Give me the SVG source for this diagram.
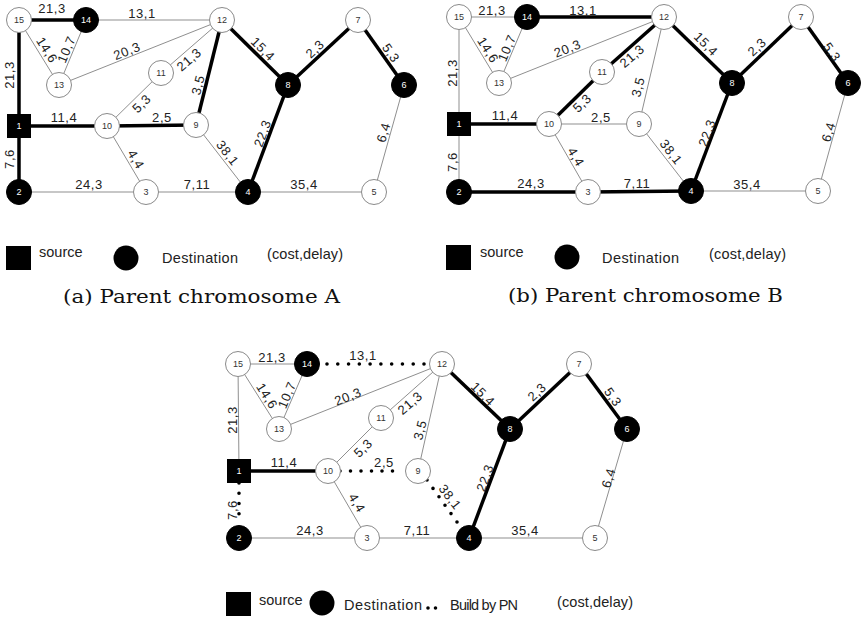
<svg xmlns="http://www.w3.org/2000/svg" width="863" height="619" viewBox="0 0 863 619">
<style>
.t{stroke:#8f8f8f;stroke-width:1;fill:none}
.b{stroke:#000;stroke-width:3.5;fill:none}
.d{stroke:#000;stroke-width:3.6;stroke-linecap:round;stroke-dasharray:0 1;fill:none}
.nw circle{fill:#fff;stroke:#8a8a8a;stroke-width:1}
.nb circle{fill:#000;stroke:#000;stroke-width:1}
.ns rect{fill:#000}
.nw text{fill:#333}
.nb text,.ns text{fill:#fff}
.nw text,.nb text,.ns text{font-family:"Liberation Sans",Arial,sans-serif;font-size:9px;text-anchor:middle;dominant-baseline:central}
.l{font-family:"Liberation Sans",Arial,sans-serif;font-size:13px;letter-spacing:0.6px;fill:#222;text-anchor:middle;dominant-baseline:central}
.lg{font-family:"Liberation Sans",Arial,sans-serif;font-size:14.5px;fill:#222}
.cap{font-family:"DejaVu Serif","Liberation Serif",serif;font-size:19px;fill:#111}
</style>

<!-- ================= Graph A ================= -->
<g id="A-edges">
<line class="b" x1="19" y1="20" x2="86" y2="20"/>
<line class="t" x1="86" y1="20" x2="222" y2="20"/>
<line class="b" x1="19" y1="20" x2="19" y2="126"/>
<line class="t" x1="19" y1="20" x2="59" y2="85"/>
<line class="t" x1="86" y1="20" x2="59" y2="85"/>
<line class="t" x1="59" y1="85" x2="222" y2="20"/>
<line class="t" x1="161" y1="73" x2="222" y2="20"/>
<line class="b" x1="196" y1="125" x2="222" y2="20"/>
<line class="b" x1="222" y1="20" x2="288" y2="85"/>
<line class="b" x1="288" y1="85" x2="358" y2="20"/>
<line class="b" x1="358" y1="20" x2="404" y2="85"/>
<line class="t" x1="404" y1="85" x2="374" y2="192"/>
<line class="b" x1="19" y1="126" x2="107" y2="126"/>
<line class="t" x1="107" y1="126" x2="161" y2="73"/>
<line class="b" x1="107" y1="126" x2="196" y2="125"/>
<line class="t" x1="107" y1="126" x2="146" y2="192"/>
<line class="b" x1="19" y1="126" x2="19" y2="192"/>
<line class="t" x1="19" y1="192" x2="146" y2="192"/>
<line class="t" x1="146" y1="192" x2="248" y2="192"/>
<line class="t" x1="196" y1="125" x2="248" y2="192"/>
<line class="b" x1="288" y1="85" x2="248" y2="192"/>
<line class="t" x1="248" y1="192" x2="374" y2="192"/>
</g>
<g id="A-labels">
<text class="l" x="52" y="8">21,3</text>
<text class="l" x="142" y="13">13,1</text>
<text class="l" transform="translate(9,75) rotate(-90)">21,3</text>
<text class="l" transform="translate(47,50) rotate(58)">14,6</text>
<text class="l" transform="translate(66.5,49.5) rotate(-67)">10,7</text>
<text class="l" transform="translate(127,51) rotate(-22)">20,3</text>
<text class="l" transform="translate(189,59.5) rotate(-41)">21,3</text>
<text class="l" transform="translate(198,85) rotate(-76)">3,5</text>
<text class="l" transform="translate(263,49) rotate(45)">15,4</text>
<text class="l" transform="translate(315,49) rotate(-43)">2,3</text>
<text class="l" transform="translate(391,53) rotate(55)">5,3</text>
<text class="l" transform="translate(383.5,132.5) rotate(-74)">6,4</text>
<text class="l" transform="translate(262.5,133.5) rotate(-70)">22,3</text>
<text class="l" transform="translate(227.5,153) rotate(52)">38,1</text>
<text class="l" x="304" y="184">35,4</text>
<text class="l" x="197" y="184">7,11</text>
<text class="l" x="89" y="184">24,3</text>
<text class="l" transform="translate(136,159.5) rotate(59)">4,4</text>
<text class="l" x="162" y="117">2,5</text>
<text class="l" transform="translate(141.5,103.5) rotate(-44)">5,3</text>
<text class="l" x="64" y="117">11,4</text>
<text class="l" transform="translate(9,159) rotate(-90)">7,6</text>
</g>
<g id="A-n15" class="nw"><circle cx="19" cy="20" r="12.5"/><text x="19" y="20">15</text></g>
<g id="A-n14" class="nb"><circle cx="86" cy="20" r="12.5"/><text x="86" y="20">14</text></g>
<g id="A-n12" class="nw"><circle cx="222" cy="20" r="12.5"/><text x="222" y="20">12</text></g>
<g id="A-n7" class="nw"><circle cx="358" cy="20" r="12.5"/><text x="358" y="20">7</text></g>
<g id="A-n13" class="nw"><circle cx="59" cy="85" r="12.5"/><text x="59" y="85">13</text></g>
<g id="A-n11" class="nw"><circle cx="161" cy="73" r="12.5"/><text x="161" y="73">11</text></g>
<g id="A-n8" class="nb"><circle cx="288" cy="85" r="12.5"/><text x="288" y="85">8</text></g>
<g id="A-n6" class="nb"><circle cx="404" cy="85" r="12.5"/><text x="404" y="85">6</text></g>
<g id="A-n1" class="ns"><rect x="7" y="114" width="24" height="24"/><text x="19" y="126">1</text></g>
<g id="A-n10" class="nw"><circle cx="107" cy="126" r="12.5"/><text x="107" y="126">10</text></g>
<g id="A-n9" class="nw"><circle cx="196" cy="125" r="12.5"/><text x="196" y="125">9</text></g>
<g id="A-n2" class="nb"><circle cx="19" cy="192" r="12.5"/><text x="19" y="192">2</text></g>
<g id="A-n3" class="nw"><circle cx="146" cy="192" r="12.5"/><text x="146" y="192">3</text></g>
<g id="A-n4" class="nb"><circle cx="248" cy="192" r="12.5"/><text x="248" y="192">4</text></g>
<g id="A-n5" class="nw"><circle cx="374" cy="192" r="12.5"/><text x="374" y="192">5</text></g>
<g id="A-legend">
<rect x="6" y="246" width="25" height="24" fill="#000"/>
<text class="lg" x="39" y="257">source</text>
<circle cx="126" cy="258" r="12.5" fill="#000"/>
<text class="lg" x="162" y="263" textLength="76">Destination</text>
<text class="lg" x="267" y="259" textLength="76">(cost,delay)</text>
<text class="cap" x="63" y="303" textLength="277" lengthAdjust="spacingAndGlyphs">(a) Parent chromosome A</text>
</g>

<!-- ================= Graph B ================= -->
<g id="B-edges">
<line class="t" x1="459" y1="17" x2="527" y2="17"/>
<line class="b" x1="527" y1="17" x2="664" y2="17"/>
<line class="t" x1="459" y1="17" x2="459" y2="124"/>
<line class="t" x1="459" y1="17" x2="499" y2="83"/>
<line class="t" x1="527" y1="17" x2="499" y2="83"/>
<line class="t" x1="499" y1="83" x2="664" y2="17"/>
<line class="b" x1="602" y1="72" x2="664" y2="17"/>
<line class="t" x1="639" y1="124" x2="664" y2="17"/>
<line class="b" x1="664" y1="17" x2="732" y2="83"/>
<line class="b" x1="732" y1="83" x2="801" y2="17"/>
<line class="b" x1="801" y1="17" x2="848" y2="83"/>
<line class="t" x1="848" y1="83" x2="818" y2="191"/>
<line class="b" x1="459" y1="124" x2="549" y2="124"/>
<line class="b" x1="549" y1="124" x2="602" y2="72"/>
<line class="t" x1="549" y1="124" x2="639" y2="124"/>
<line class="t" x1="549" y1="124" x2="588" y2="192"/>
<line class="t" x1="459" y1="124" x2="459" y2="192"/>
<line class="b" x1="459" y1="192" x2="588" y2="192"/>
<line class="b" x1="588" y1="192" x2="691" y2="191"/>
<line class="t" x1="639" y1="124" x2="691" y2="191"/>
<line class="b" x1="732" y1="83" x2="691" y2="191"/>
<line class="t" x1="691" y1="191" x2="818" y2="191"/>
</g>
<g id="B-labels">
<text class="l" x="492" y="10">21,3</text>
<text class="l" x="583" y="10">13,1</text>
<text class="l" transform="translate(452,73) rotate(-90)">21,3</text>
<text class="l" transform="translate(488,50) rotate(58)">14,6</text>
<text class="l" transform="translate(507,48) rotate(-67)">10,7</text>
<text class="l" transform="translate(567.5,48.5) rotate(-22)">20,3</text>
<text class="l" transform="translate(632,56) rotate(-41)">21,3</text>
<text class="l" transform="translate(638,87) rotate(-76)">3,5</text>
<text class="l" transform="translate(706,44) rotate(45)">15,4</text>
<text class="l" transform="translate(757,47) rotate(-43)">2,3</text>
<text class="l" transform="translate(832,52) rotate(55)">5,3</text>
<text class="l" transform="translate(828.5,132) rotate(-74)">6,4</text>
<text class="l" transform="translate(707,133) rotate(-70)">22,3</text>
<text class="l" transform="translate(671,152) rotate(52)">38,1</text>
<text class="l" x="747" y="184">35,4</text>
<text class="l" x="637" y="183">7,11</text>
<text class="l" x="531" y="183">24,3</text>
<text class="l" transform="translate(576,157) rotate(59)">4,4</text>
<text class="l" x="601" y="117">2,5</text>
<text class="l" transform="translate(582,103) rotate(-44)">5,3</text>
<text class="l" x="505" y="115">11,4</text>
<text class="l" transform="translate(452,162) rotate(-90)">7,6</text>
</g>
<g id="B-n15" class="nw"><circle cx="459" cy="17" r="12.5"/><text x="459" y="17">15</text></g>
<g id="B-n14" class="nb"><circle cx="527" cy="17" r="12.5"/><text x="527" y="17">14</text></g>
<g id="B-n12" class="nw"><circle cx="664" cy="17" r="12.5"/><text x="664" y="17">12</text></g>
<g id="B-n7" class="nw"><circle cx="801" cy="17" r="12.5"/><text x="801" y="17">7</text></g>
<g id="B-n13" class="nw"><circle cx="499" cy="83" r="12.5"/><text x="499" y="83">13</text></g>
<g id="B-n11" class="nw"><circle cx="602" cy="72" r="12.5"/><text x="602" y="72">11</text></g>
<g id="B-n8" class="nb"><circle cx="732" cy="83" r="12.5"/><text x="732" y="83">8</text></g>
<g id="B-n6" class="nb"><circle cx="848" cy="83" r="12.5"/><text x="848" y="83">6</text></g>
<g id="B-n1" class="ns"><rect x="447" y="112" width="24" height="24"/><text x="459" y="124">1</text></g>
<g id="B-n10" class="nw"><circle cx="549" cy="124" r="12.5"/><text x="549" y="124">10</text></g>
<g id="B-n9" class="nw"><circle cx="639" cy="124" r="12.5"/><text x="639" y="124">9</text></g>
<g id="B-n2" class="nb"><circle cx="459" cy="192" r="12.5"/><text x="459" y="192">2</text></g>
<g id="B-n3" class="nw"><circle cx="588" cy="192" r="12.5"/><text x="588" y="192">3</text></g>
<g id="B-n4" class="nb"><circle cx="691" cy="191" r="12.5"/><text x="691" y="191">4</text></g>
<g id="B-n5" class="nw"><circle cx="818" cy="191" r="12.5"/><text x="818" y="191">5</text></g>
<g id="B-legend">
<rect x="446" y="245" width="25" height="25" fill="#000"/>
<text class="lg" x="480" y="257">source</text>
<circle cx="567" cy="257" r="12.5" fill="#000"/>
<text class="lg" x="602" y="263" textLength="77">Destination</text>
<text class="lg" x="709" y="259" textLength="77">(cost,delay)</text>
<text class="cap" x="508" y="302" textLength="275" lengthAdjust="spacingAndGlyphs">(b) Parent chromosome B</text>
</g>

<!-- ================= Graph C ================= -->
<g id="C-edges">
<line class="t" x1="238" y1="364" x2="307" y2="364"/>
<line class="d" x1="327" y1="364" x2="424" y2="364" pathLength="9"/>
<line class="t" x1="238" y1="364" x2="239" y2="471"/>
<line class="t" x1="238" y1="364" x2="279" y2="429"/>
<line class="t" x1="307" y1="364" x2="279" y2="429"/>
<line class="t" x1="279" y1="429" x2="442" y2="364"/>
<line class="t" x1="381" y1="418" x2="442" y2="364"/>
<line class="t" x1="418" y1="471" x2="442" y2="364"/>
<line class="b" x1="442" y1="364" x2="510" y2="429"/>
<line class="b" x1="510" y1="429" x2="579" y2="364"/>
<line class="b" x1="579" y1="364" x2="627" y2="429"/>
<line class="t" x1="627" y1="429" x2="595" y2="538"/>
<line class="b" x1="239" y1="471" x2="328" y2="471"/>
<line class="t" x1="328" y1="471" x2="381" y2="418"/>
<line class="d" x1="340" y1="471" x2="403" y2="471" pathLength="6"/>
<line class="t" x1="328" y1="471" x2="367" y2="538"/>
<line class="d" x1="239" y1="483" x2="239" y2="524" pathLength="4"/>
<line class="t" x1="239" y1="538" x2="367" y2="538"/>
<line class="t" x1="367" y1="538" x2="469" y2="538"/>
<line class="d" x1="427" y1="480" x2="457" y2="522" pathLength="5"/>
<line class="b" x1="510" y1="429" x2="469" y2="538"/>
<line class="t" x1="469" y1="538" x2="595" y2="538"/>
</g>
<g id="C-labels">
<text class="l" x="272" y="357">21,3</text>
<text class="l" x="363" y="355">13,1</text>
<text class="l" transform="translate(232,420) rotate(-90)">21,3</text>
<text class="l" transform="translate(267,396) rotate(58)">14,6</text>
<text class="l" transform="translate(287,395) rotate(-67)">10,7</text>
<text class="l" transform="translate(348,396.5) rotate(-22)">20,3</text>
<text class="l" transform="translate(410,403) rotate(-41)">21,3</text>
<text class="l" transform="translate(420,430) rotate(-76)">3,5</text>
<text class="l" transform="translate(483,394) rotate(45)">15,4</text>
<text class="l" transform="translate(537,392) rotate(-43)">2,3</text>
<text class="l" transform="translate(613,397) rotate(55)">5,3</text>
<text class="l" transform="translate(608.5,478) rotate(-74)">6,4</text>
<text class="l" transform="translate(485,478) rotate(-70)">22,3</text>
<text class="l" transform="translate(450,497) rotate(52)">38,1</text>
<text class="l" x="525" y="530">35,4</text>
<text class="l" x="417" y="530">7,11</text>
<text class="l" x="310" y="530">24,3</text>
<text class="l" transform="translate(357,503) rotate(59)">4,4</text>
<text class="l" x="384" y="462">2,5</text>
<text class="l" transform="translate(363,448) rotate(-44)">5,3</text>
<text class="l" x="284" y="462">11,4</text>
<text class="l" transform="translate(232,510) rotate(-90)">7,6</text>
</g>
<g id="C-n15" class="nw"><circle cx="238" cy="364" r="12.5"/><text x="238" y="364">15</text></g>
<g id="C-n14" class="nb"><circle cx="307" cy="364" r="12.5"/><text x="307" y="364">14</text></g>
<g id="C-n12" class="nw"><circle cx="442" cy="364" r="12.5"/><text x="442" y="364">12</text></g>
<g id="C-n7" class="nw"><circle cx="579" cy="364" r="12.5"/><text x="579" y="364">7</text></g>
<g id="C-n13" class="nw"><circle cx="279" cy="429" r="12.5"/><text x="279" y="429">13</text></g>
<g id="C-n11" class="nw"><circle cx="381" cy="418" r="12.5"/><text x="381" y="418">11</text></g>
<g id="C-n8" class="nb"><circle cx="510" cy="429" r="12.5"/><text x="510" y="429">8</text></g>
<g id="C-n6" class="nb"><circle cx="627" cy="429" r="12.5"/><text x="627" y="429">6</text></g>
<g id="C-n1" class="ns"><rect x="227" y="459" width="24" height="24"/><text x="239" y="471">1</text></g>
<g id="C-n10" class="nw"><circle cx="328" cy="471" r="12.5"/><text x="328" y="471">10</text></g>
<g id="C-n9" class="nw"><circle cx="418" cy="471" r="12.5"/><text x="418" y="471">9</text></g>
<g id="C-n2" class="nb"><circle cx="239" cy="538" r="12.5"/><text x="239" y="538">2</text></g>
<g id="C-n3" class="nw"><circle cx="367" cy="538" r="12.5"/><text x="367" y="538">3</text></g>
<g id="C-n4" class="nb"><circle cx="469" cy="538" r="12.5"/><text x="469" y="538">4</text></g>
<g id="C-n5" class="nw"><circle cx="595" cy="538" r="12.5"/><text x="595" y="538">5</text></g>
<g id="C-legend">
<rect x="226" y="592" width="25" height="24" fill="#000"/>
<text class="lg" x="259" y="605">source</text>
<circle cx="322" cy="603" r="12.5" fill="#000"/>
<text class="lg" x="344" y="610" textLength="78">Destination</text>
<line class="d" x1="428" y1="608" x2="443" y2="608" pathLength="2"/>
<text class="lg" x="450" y="610" textLength="68">Build by PN</text>
<text class="lg" x="557" y="607" textLength="76">(cost,delay)</text>
</g>
</svg>
